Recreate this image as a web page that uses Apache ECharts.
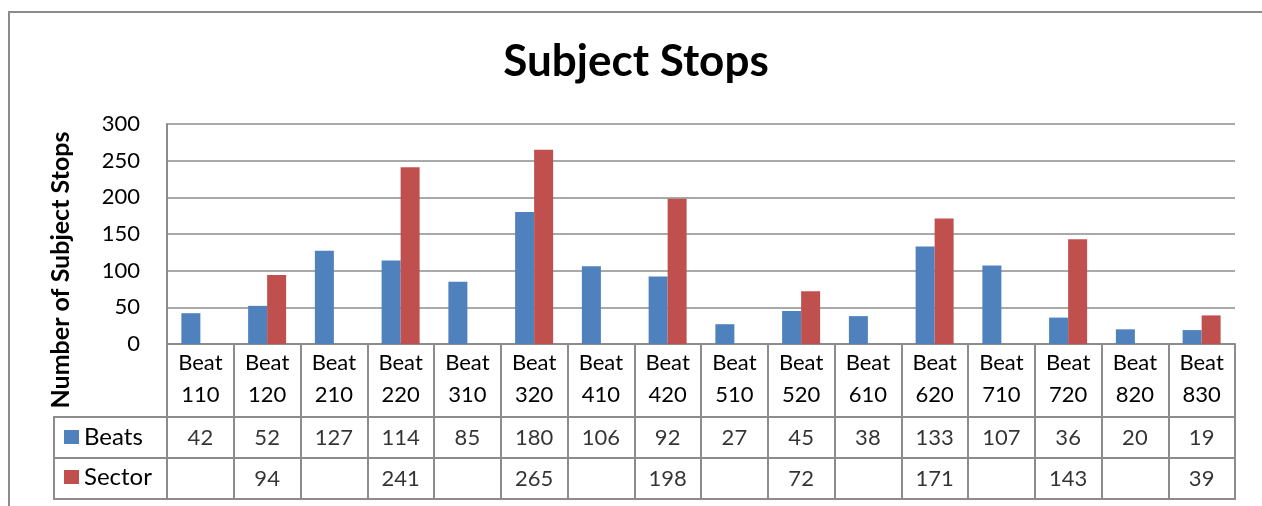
<!DOCTYPE html>
<html>
<head>
<meta charset="utf-8">
<script src="https://cdn.jsdelivr.net/npm/echarts@6/dist/echarts.min.js"></script>
<style>
  html, body { margin: 0; padding: 0; background: #fff; }
  #chart { width: 1262px; height: 506px; }
</style>
</head>
<body>
<div id="chart"></div>
<script>
// Subject stops per beat, with a data table under the axis
const categories = ['Beat 110', 'Beat 120', 'Beat 210', 'Beat 220', 'Beat 310', 'Beat 320', 'Beat 410', 'Beat 420',
                    'Beat 510', 'Beat 520', 'Beat 610', 'Beat 620', 'Beat 710', 'Beat 720', 'Beat 820', 'Beat 830'];
const beats  = [42, 52, 127, 114, 85, 180, 106, 92, 27, 45, 38, 133, 107, 36, 20, 19];
const sector = [null, 94, null, 241, null, 265, null, 198, null, 72, null, 171, null, 143, null, 39];
const yTicks = { min: 0, max: 300, step: 50 };

const FONT = 'Lato';
const LINE = '#8c8c8c';
const BLUE = '#4F81BD';
const RED = '#C0504D';

// plot area and table geometry
const PL = 167, PR = 27;
const PT = 124, PH = 220;
const ROW1 = 417, ROWH = 41;
const ROW2 = ROW1 + ROWH;
const CAT_ROW = ROW1 - (PT + PH);

function tableCells(values) {
  const out = [];
  values.forEach((v, i) => { if (v != null) out.push([i, 0.5, v]); });
  return out;
}

function tableRowAxes(gridIndex) {
  return {
    x: {
      type: 'category', gridIndex, data: categories, boundaryGap: true,
      axisLine: { show: false }, axisTick: { show: false }, axisLabel: { show: false },
      splitLine: { show: true, interval: 0, lineStyle: { color: LINE, width: 2 } }
    },
    y: { type: 'value', gridIndex, min: 0, max: 1, show: false, splitLine: { show: false } }
  };
}

const r1 = tableRowAxes(1), r2 = tableRowAxes(2);

function tableSeries(values, idx) {
  return {
    type: 'scatter', xAxisIndex: idx, yAxisIndex: idx, silent: true,
    symbolSize: 1, itemStyle: { color: 'rgba(0,0,0,0)' },
    data: tableCells(values),
    label: {
      show: true, position: 'inside', formatter: p => String(p.value[2]),
      fontFamily: FONT, fontSize: 22, color: '#000'
    }
  };
}

const chart = echarts.init(document.getElementById('chart'), null, { renderer: 'canvas' });
chart.setOption({
  animation: false,
  backgroundColor: '#fff',
  title: {
    text: 'Subject Stops', left: 631, top: 35, textAlign: 'center',
    textStyle: { fontFamily: FONT, fontWeight: 'bold', fontSize: 44, color: '#000' }
  },
  legend: {
    orient: 'vertical', left: 64, top: 425, itemGap: 16, padding: 0,
    itemWidth: 15, itemHeight: 14, icon: 'rect',
    data: ['Beats', 'Sector'],
    textStyle: { fontFamily: FONT, fontSize: 24, lineHeight: 22, color: '#000' },
    selectedMode: false
  },
  grid: [
    { left: PL, right: PR, top: PT, height: PH },
    { left: PL, right: PR, top: ROW1, height: ROWH, show: true, borderColor: LINE, borderWidth: 2 },
    { left: PL, right: PR, top: ROW2, height: ROWH, show: true, borderColor: LINE, borderWidth: 2 }
  ],
  xAxis: [
    {
      type: 'category', gridIndex: 0, data: categories, boundaryGap: true,
      axisLine: { show: true, lineStyle: { color: LINE, width: 2 } },
      axisTick: { show: true, interval: 0, length: CAT_ROW, lineStyle: { color: LINE, width: 2 } },
      axisLabel: {
        interval: 0, margin: 3, formatter: v => v.replace(' ', '\n'),
        fontFamily: FONT, fontSize: 22, lineHeight: 32, color: '#000'
      },
      splitLine: { show: false }
    },
    r1.x, r2.x
  ],
  yAxis: [
    {
      type: 'value', gridIndex: 0, min: yTicks.min, max: yTicks.max, interval: yTicks.step,
      axisLine: { show: true, lineStyle: { color: LINE, width: 2 } },
      axisTick: { show: false },
      axisLabel: { margin: 27, fontFamily: FONT, fontSize: 22, color: '#000' },
      splitLine: { show: true, lineStyle: { color: LINE, width: 1.5 } }
    },
    r1.y, r2.y
  ],
  series: [
    { name: 'Beats', type: 'bar', xAxisIndex: 0, yAxisIndex: 0, data: beats,
      barWidth: 19, barGap: '0%', itemStyle: { color: BLUE } },
    { name: 'Sector', type: 'bar', xAxisIndex: 0, yAxisIndex: 0, data: sector,
      barWidth: 19, barGap: '0%', itemStyle: { color: RED } },
    tableSeries(beats, 1),
    tableSeries(sector, 2)
  ],
  graphic: [
    // chart frame
    { type: 'rect', shape: { x: 9, y: 12, width: 1270, height: 520 },
      style: { fill: 'none', stroke: LINE, lineWidth: 2 }, silent: true },
    // legend column of the data table
    { type: 'rect', shape: { x: 54, y: ROW1, width: PL - 54, height: ROWH * 2 },
      style: { fill: 'none', stroke: LINE, lineWidth: 2 }, silent: true },
    { type: 'line', shape: { x1: 54, y1: ROW2, x2: PL, y2: ROW2 },
      style: { stroke: LINE, lineWidth: 2 }, silent: true },
    // value axis title
    { type: 'text', x: 61, y: 270, rotation: Math.PI / 2, silent: true,
      style: { text: 'Number of Subject Stops', font: 'bold 25px Lato', fill: '#000',
               align: 'center', verticalAlign: 'middle' } }
  ]
});
</script>
</body>
</html>
